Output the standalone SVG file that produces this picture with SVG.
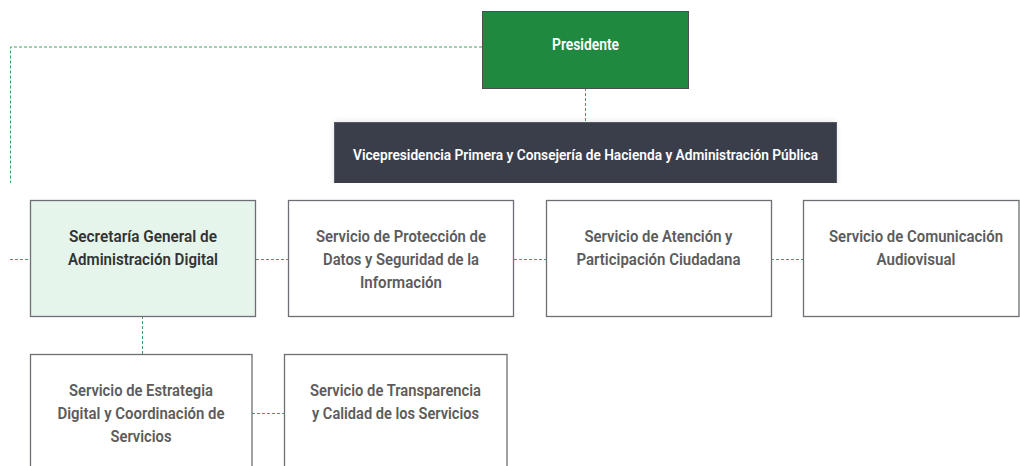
<svg xmlns="http://www.w3.org/2000/svg" width="1020" height="466" viewBox="0 0 1020 466">
<style>
.conn{fill:none;stroke:#3f9e62;stroke-width:1;stroke-dasharray:3 2}
.box{fill:#ffffff;stroke:#6e6f76;stroke-width:1.3}
.t{font-family:Roboto,"Liberation Sans",sans-serif;font-weight:600;font-size:17px;text-anchor:middle;fill:#5c5c5c}
.dark{fill:#333333}
.w{fill:#ffffff}
.p{font-size:16px}
.v{font-size:15px}
</style>
<defs>
<clipPath id="top"><rect x="0" y="0" width="1020" height="183"/></clipPath>
<filter id="sh" x="-5%" y="-30%" width="110%" height="160%"><feGaussianBlur stdDeviation="3"/></filter>
</defs>
<rect width="1020" height="466" fill="#ffffff"/>
<g id="connectors">
<g clip-path="url(#top)">
<polyline class="conn" points="482,47 10.5,47 10.5,190"/>
<line class="conn" x1="585.5" y1="88" x2="585.5" y2="122"/>
</g>
<line class="conn" x1="10" y1="259.5" x2="30" y2="259.5"/>
<line class="conn" x1="256" y1="259.5" x2="288" y2="259.5"/>
<line class="conn" x1="514" y1="259.5" x2="546" y2="259.5"/>
<line class="conn" x1="771" y1="259.5" x2="803" y2="259.5"/>
<line class="conn" x1="142.5" y1="316" x2="142.5" y2="354"/>
<line class="conn" x1="252" y1="413.5" x2="284" y2="413.5"/>
</g>
<g id="presidente">
<rect x="482.5" y="11.5" width="206" height="77" fill="#1f8a3f" stroke="#4a4f55" stroke-width="1"/>
<text class="t w p" x="585.5" y="49.5" textLength="67" lengthAdjust="spacingAndGlyphs">Presidente</text>
</g>
<g id="vicepresidencia" clip-path="url(#top)">
<rect x="334" y="122" width="502" height="70" fill="#000" opacity="0.12" filter="url(#sh)"/>
<rect x="334.5" y="122.5" width="502" height="70" fill="#3a3e4b" stroke="#555a66" stroke-width="1"/>
<text class="t w v" x="585.5" y="160" textLength="465" lengthAdjust="spacingAndGlyphs">Vicepresidencia Primera y Consejería de Hacienda y Administración Pública</text>
</g>
<g id="secretaria">
<rect x="30.5" y="200.5" width="225" height="116" fill="#e6f5ec" stroke="#6e6f76" stroke-width="1.3"/>
<text class="t dark" x="143" y="242" textLength="148" lengthAdjust="spacingAndGlyphs">Secretaría General de</text>
<text class="t dark" x="143" y="265" textLength="150" lengthAdjust="spacingAndGlyphs">Administración Digital</text>
</g>
<g id="proteccion">
<rect class="box" x="288.5" y="200.5" width="225" height="116"/>
<text class="t" x="401" y="242" textLength="170" lengthAdjust="spacingAndGlyphs">Servicio de Protección de</text>
<text class="t" x="401" y="265" textLength="156" lengthAdjust="spacingAndGlyphs">Datos y Seguridad de la</text>
<text class="t" x="401" y="288" textLength="82" lengthAdjust="spacingAndGlyphs">Información</text>
</g>
<g id="atencion">
<rect class="box" x="546.5" y="200.5" width="225" height="116"/>
<text class="t" x="658.5" y="242" textLength="148" lengthAdjust="spacingAndGlyphs">Servicio de Atención y</text>
<text class="t" x="658.5" y="265" textLength="164" lengthAdjust="spacingAndGlyphs">Participación Ciudadana</text>
</g>
<g id="comunicacion">
<rect class="box" x="803.5" y="200.5" width="215.5" height="116"/>
<text class="t" x="916" y="242" textLength="174" lengthAdjust="spacingAndGlyphs">Servicio de Comunicación</text>
<text class="t" x="916" y="265" textLength="79" lengthAdjust="spacingAndGlyphs">Audiovisual</text>
</g>
<g id="estrategia">
<rect class="box" x="30.5" y="354.5" width="221.5" height="120"/>
<text class="t" x="141" y="396" textLength="144" lengthAdjust="spacingAndGlyphs">Servicio de Estrategia</text>
<text class="t" x="141" y="419" textLength="167" lengthAdjust="spacingAndGlyphs">Digital y Coordinación de</text>
<text class="t" x="141" y="442" textLength="61" lengthAdjust="spacingAndGlyphs">Servicios</text>
</g>
<g id="transparencia">
<rect class="box" x="284.5" y="354.5" width="222.5" height="120"/>
<text class="t" x="395.5" y="396" textLength="171" lengthAdjust="spacingAndGlyphs">Servicio de Transparencia</text>
<text class="t" x="395.5" y="419" textLength="167" lengthAdjust="spacingAndGlyphs">y Calidad de los Servicios</text>
</g>
</svg>
